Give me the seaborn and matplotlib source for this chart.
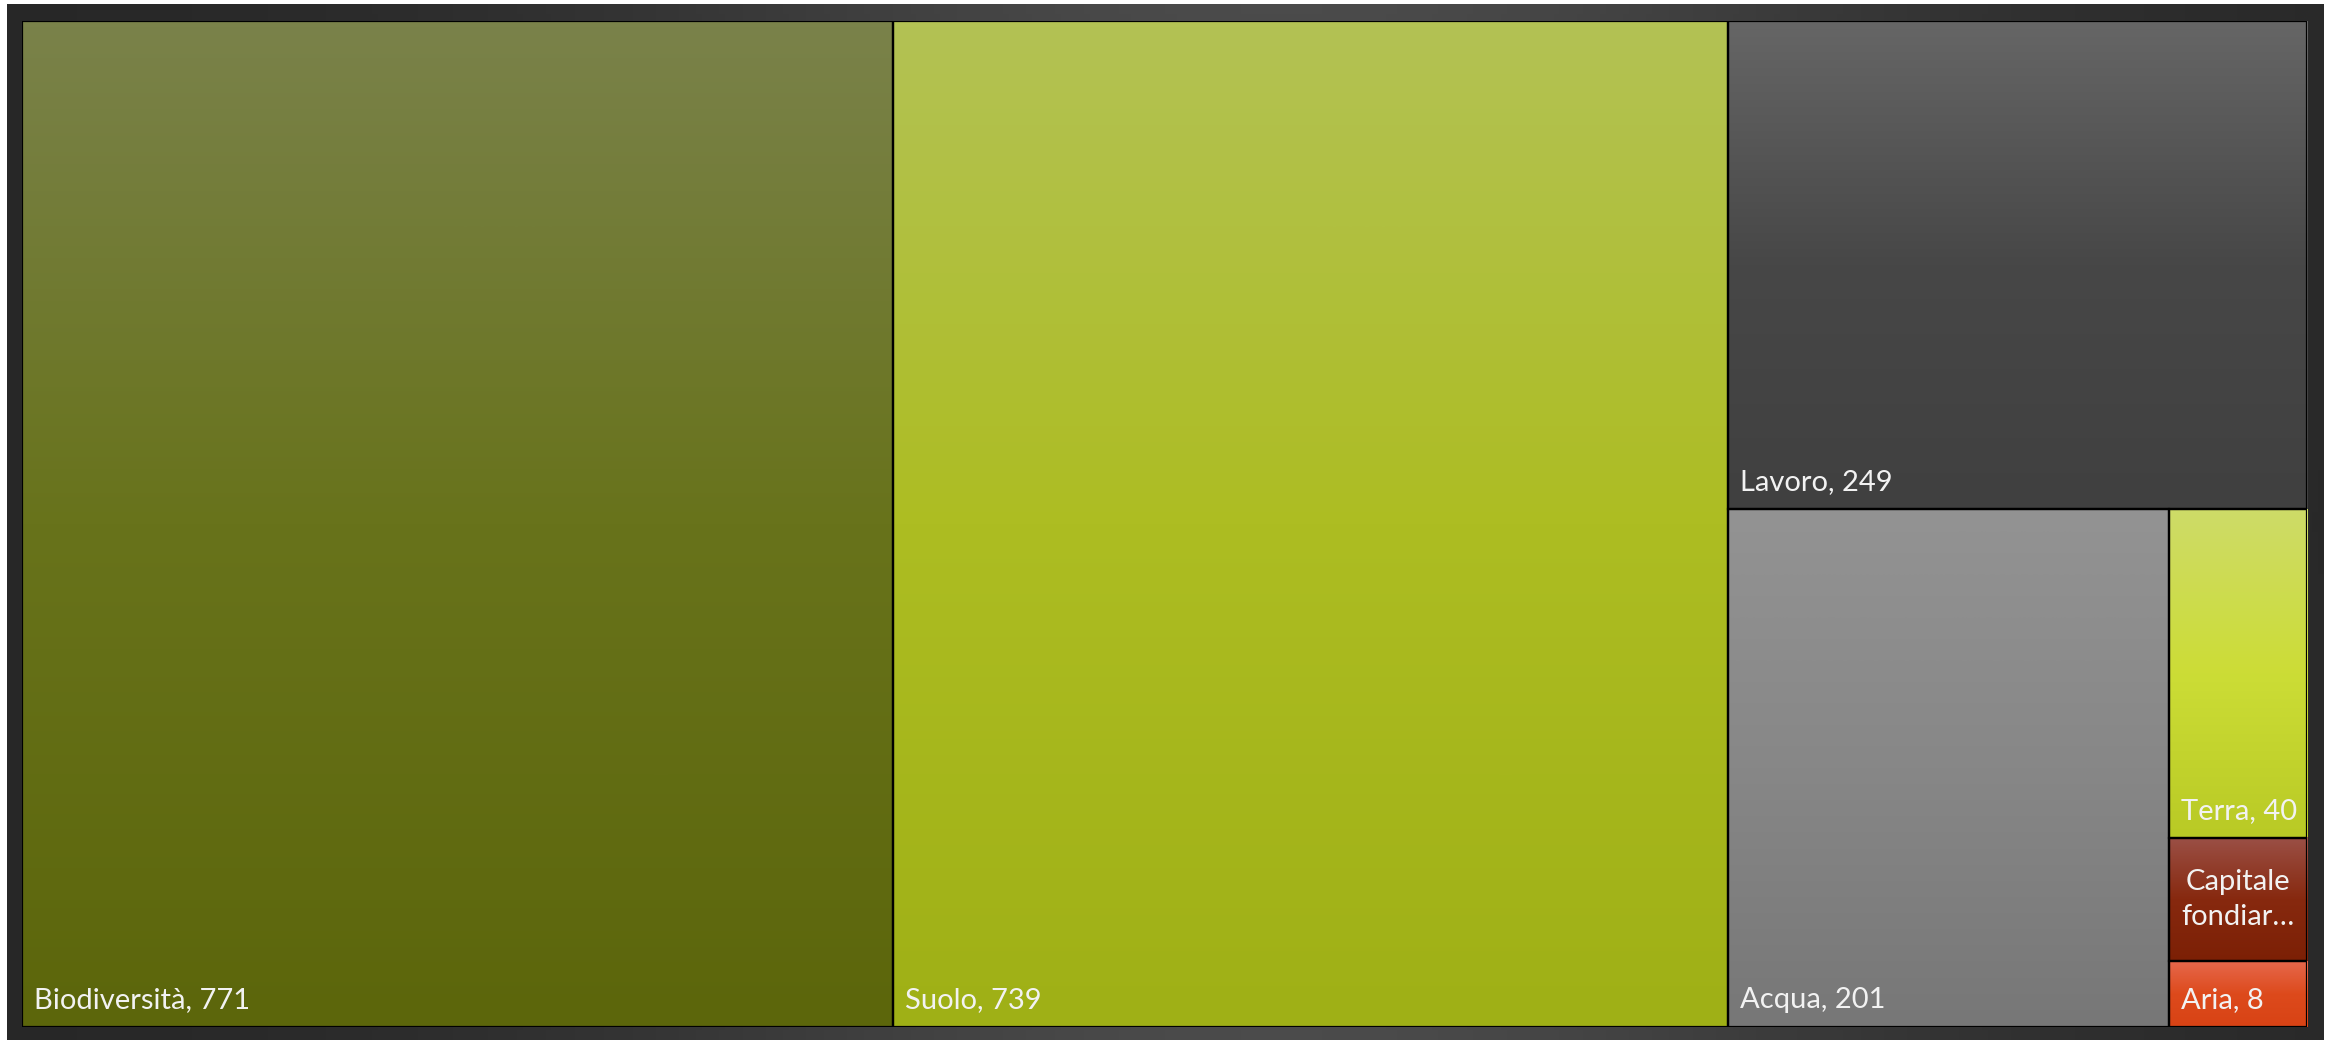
import numpy as np
import matplotlib
matplotlib.use("Agg")
import matplotlib.pyplot as plt
from matplotlib.colors import LinearSegmentedColormap
from matplotlib.patches import Rectangle
import seaborn as sns

sns.set_theme(style="white")
plt.rcParams['font.family'] = ['Lato', 'DejaVu Sans']

# ---------------- Data ----------------
categories = ["Biodiversità", "Suolo", "Lavoro", "Acqua", "Terra", "Capitale fondiaria", "Aria"]
values = [771, 739, 249, 201, 40, 15, 8]
shown_labels = ["Biodiversità, 771", "Suolo, 739", "Lavoro, 249", "Acqua, 201",
                "Terra, 40", "Capitale\nfondiar…", "Aria, 8"]
# gradient stops (top, middle, bottom) for each tile
tile_colors = [
    ("#7a824a", "#68731b", "#5c660b"),
    ("#b3c254", "#adbd22", "#9fb016"),
    ("#666666", "#474747", "#404040"),
    ("#939393", "#878787", "#777777"),
    ("#cedb68", "#ccdd36", "#b9ca25"),
    ("#9b5046", "#87290f", "#7c2005"),
    ("#e6684c", "#dd4a1c", "#d84315"),
]


# ---------------- Squarified layout ----------------
def worst(row, side):
    s = sum(row)
    return max(max(side * side * r / (s * s), s * s / (side * side * r)) for r in row)


def squarify(sizes, x, y, dx, dy):
    total = sum(sizes)
    sizes = [v * dx * dy / total for v in sizes]
    rects = []
    while sizes:
        side = min(dx, dy)
        row = [sizes[0]]
        i = 1
        while i < len(sizes) and worst(row + [sizes[i]], side) <= worst(row, side):
            row.append(sizes[i])
            i += 1
        sizes = sizes[i:]
        s = sum(row)
        if dx >= dy:
            t = s / dy
            yy = y
            for r in row:
                rects.append((x, yy, t, r / t))
                yy += r / t
            x += t
            dx -= t
        else:
            t = s / dx
            xx = x
            for r in row:
                rects.append((xx, y, r / t, t))
                xx += r / t
            y += t
            dy -= t
    return rects


W, H = 2285.0, 1006.0
rects = squarify(values, 0, 0, W, H)

# ---------------- Figure ----------------
fig = plt.figure(figsize=(23.31, 10.44), dpi=100, facecolor="white")

# dark chart-area frame with soft gradient
bg = fig.add_axes([7 / 2331, 4 / 1044, 2317 / 2331, 1036 / 1044])
u = np.linspace(0, 1, 400)
v = np.linspace(0, 1, 100)
U, V = np.meshgrid(u, v)
shade = np.exp(-((U - 0.55) / 0.28) ** 2) * (0.75 + 0.25 * np.abs(2 * V - 1))
bg_cmap = LinearSegmentedColormap.from_list("frame", ["#272727", "#4b4b4b"])
bg.imshow(shade, cmap=bg_cmap, aspect="auto", extent=(0, 1, 0, 1), vmin=0, vmax=1)
bg.set_axis_off()

ax = fig.add_axes([22 / 2331, 17 / 1044, W / 2331, H / 1044])
ax.set_axis_off()

grad = np.linspace(0, 1, 256).reshape(-1, 1)
for (x, y, w, h), lab, cols in zip(rects, shown_labels, tile_colors):
    cmap = LinearSegmentedColormap.from_list("g", [(0, cols[0]), (0.5, cols[1]), (1, cols[2])])
    ax.imshow(grad, cmap=cmap, aspect="auto", extent=(x, x + w, y + h, y),
              interpolation="bilinear", zorder=1)
    ax.add_patch(Rectangle((x, y), w, h, fill=False, edgecolor="black", linewidth=1.6, zorder=2))
    if "\n" in lab:
        ax.text(x + w / 2, y + h / 2, lab, ha="center", va="center", color="#f2f2f2",
                fontsize=21, linespacing=1.4, zorder=3)
    else:
        ax.text(x + 12, y + h - 14, lab, ha="left", va="bottom", color="#f2f2f2",
                fontsize=21, zorder=3)

ax.set_xlim(0, W)
ax.set_ylim(H, 0)

plt.savefig("out.png", dpi=100, facecolor="white")
